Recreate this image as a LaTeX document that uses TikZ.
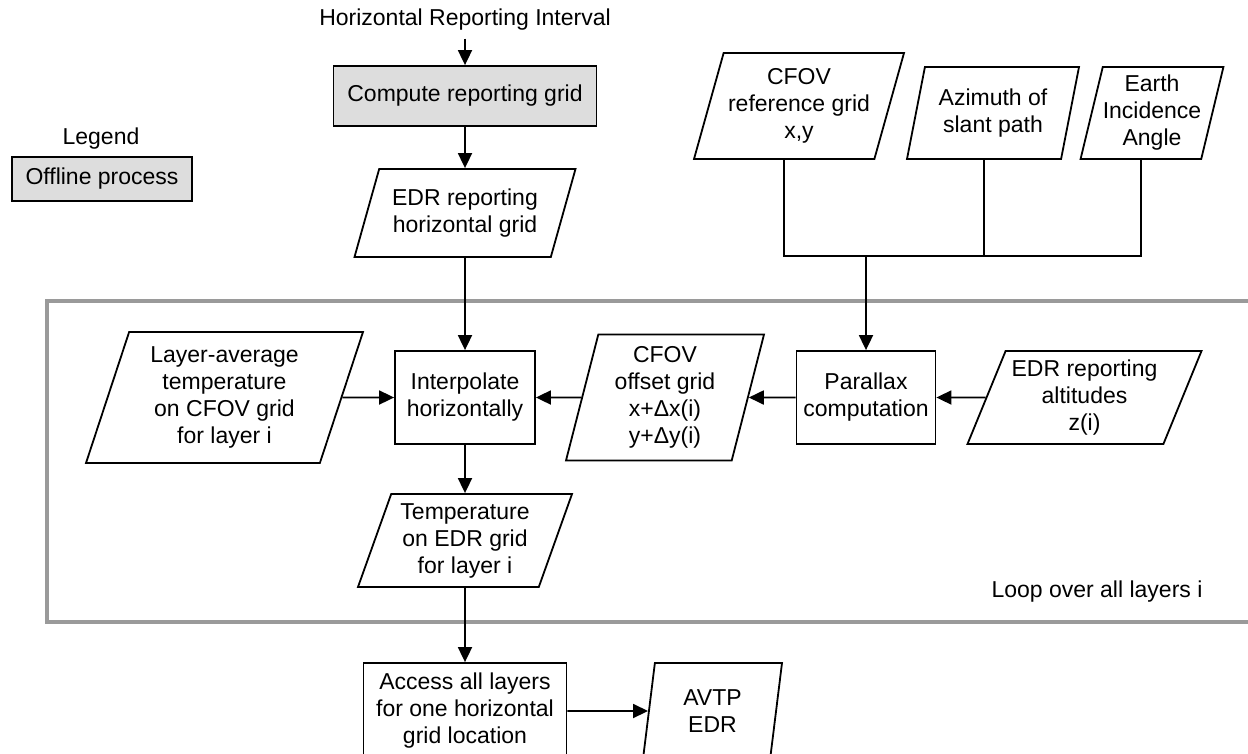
\documentclass[tikz,border=0pt]{standalone}
\usepackage{fontspec}
\setmainfont{Liberation Sans}
\usetikzlibrary{shapes.geometric,arrows.meta}
\definecolor{offgray}{HTML}{DDDDDD}
\definecolor{loopgray}{HTML}{9A9A9A}
\begin{document}
\begin{tikzpicture}[x=1pt,y=-1pt,line width=1.8pt,
  font=\fontsize{23}{27}\selectfont,
  every node/.style={align=center,inner sep=0pt},
  proc/.style={draw,rectangle},
  data/.style={draw,trapezium,trapezium stretches body},
  arr/.style={-{Triangle[length=15pt,width=14pt]}}]
\useasboundingbox (0,0) rectangle (1248,753);
\clip (0,0) rectangle (1248,753);
% loop frame
\draw[loopgray,line width=4pt] (47,301) rectangle (1270,622);
\node (loop) at (1097,592) {Loop over all layers i};
% legend
\node (legend) at (101,139) {Legend};
\node[proc,fill=offgray,minimum width=180pt,minimum height=44pt] (offline) at (102,179) {Offline process};
% main column
\node (title) at (465,20) {Horizontal Reporting Interval};
\node[proc,fill=offgray,minimum width=263pt,minimum height=60pt] (compute) at (465,96) {Compute reporting grid};
\node[data,trapezium left angle=63,trapezium right angle=117,minimum width=221pt,minimum height=88pt] (grid) at (465,213) {EDR reporting\\horizontal grid};
\node[proc,minimum width=140pt,minimum height=93pt] (interp) at (465,397.5) {Interpolate\\horizontally};
\node[data,trapezium left angle=66,trapezium right angle=114,minimum width=214pt,minimum height=93pt] (temp) at (465,540.5) {Temperature\\on EDR grid\\for layer i};
\node[proc,minimum width=203pt,minimum height=96pt] (access) at (465,711) {Access all layers\\for one horizontal\\grid location};
\node[data,trapezium left angle=74.5,trapezium right angle=105.5,minimum width=139pt,minimum height=96pt] (avtp) at (712.5,711) {AVTP\\EDR};
\node[data,trapezium left angle=67,trapezium right angle=113,minimum width=277pt,minimum height=131pt] (layer) at (224.5,397.5) {Layer-average\\temperature\\on CFOV grid\\for layer i};
% parallax branch
\node[data,trapezium left angle=68.4,trapezium right angle=111.6,minimum width=210pt,minimum height=106pt] (cfovref) at (799,106) {CFOV\\reference grid\\x,y};
\node[data,trapezium left angle=69.7,trapezium right angle=110.3,minimum width=172pt,minimum height=92pt] (azim) at (993,113) {Azimuth of\\slant path};
\node[data,trapezium left angle=73.6,trapezium right angle=106.4,minimum width=138pt,minimum height=92pt] (eia) at (1152,113) {Earth\\Incidence\\Angle};
\node[proc,minimum width=139pt,minimum height=93pt] (parallax) at (866,397.5) {Parallax\\computation};
\node[data,trapezium left angle=72.4,trapezium right angle=107.6,minimum width=198pt,minimum height=126pt] (cfovoff) at (665,397.5) {CFOV\\offset grid\\x+Δx(i)\\y+Δy(i)};
\node[data,trapezium left angle=63.2,trapezium right angle=116.8,minimum width=234pt,minimum height=93pt] (edralt) at (1084.5,397.5) {EDR reporting\\altitudes\\z(i)};
\coordinate (join) at (866,256);
% connectors
\draw[arr,shorten <=7pt] (title) -- (compute);
\draw[arr] (compute) -- (grid);
\draw[arr] (grid) -- (interp);
\draw[arr] (layer) -- (interp);
\draw[arr] (cfovoff) -- (interp);
\draw[arr] (parallax) -- (cfovoff);
\draw[arr] (edralt) -- (parallax);
\foreach \n in {cfovref,azim,eia}
	\draw (\n.bottom side) |- (join);
\draw[arr] (join) -- (parallax);
\draw[arr] (interp) -- (temp);
\draw[arr] (temp) -- (access);
\draw[arr] (access) -- (avtp);
\end{tikzpicture}
\end{document}
